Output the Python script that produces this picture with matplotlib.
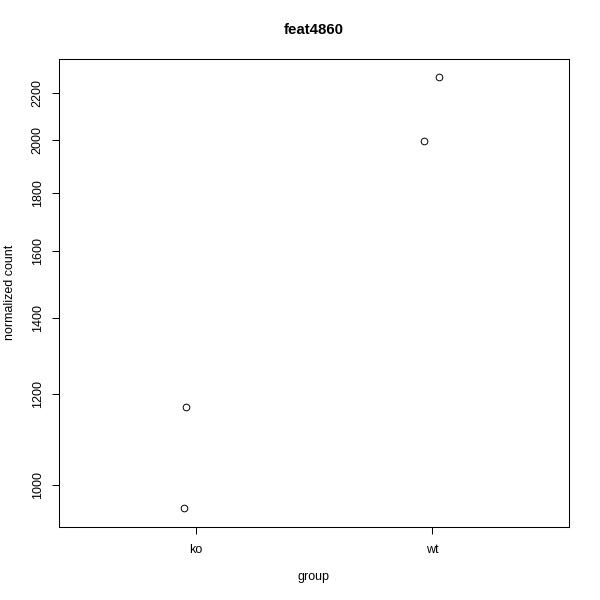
import matplotlib
matplotlib.use("Agg")
import matplotlib.pyplot as plt
from matplotlib.ticker import FixedLocator, FixedFormatter, NullLocator

# data (DESeq2-style plotCounts)
groups = ["ko", "wt"]
group_idx = [1, 1, 2, 2]
jitter = [-0.051, -0.042, -0.034, 0.030]
counts = [955, 1170, 1997, 2272]
y_ticks = [1000, 1200, 1400, 1600, 1800, 2000, 2200]

plt.rcParams["font.family"] = ["Liberation Sans", "DejaVu Sans"]

fig = plt.figure(figsize=(6, 6), dpi=100)
ax = fig.add_axes([59 / 600, 73 / 600, 510 / 600, 468 / 600])

xs = [g + j for g, j in zip(group_idx, jitter)]
ax.plot(xs, counts, linestyle="none", marker="o", markersize=4.8,
        markerfacecolor="none", markeredgecolor="black", markeredgewidth=0.7)

ax.set_yscale("log")
ax.set_xlim(0.42, 2.58)
ax.set_ylim(919, 2356)

ax.yaxis.set_major_locator(FixedLocator(y_ticks))
ax.yaxis.set_major_formatter(FixedFormatter([str(t) for t in y_ticks]))
ax.yaxis.set_minor_locator(NullLocator())
ax.set_xticks([1, 2])
ax.set_xticklabels(groups)

ax.tick_params(axis="both", direction="out", length=5, width=0.75, labelsize=9)
ax.tick_params(axis="x", pad=7.5)
ax.tick_params(axis="y", pad=6)
for lbl in ax.get_yticklabels():
    lbl.set_rotation(90)
    lbl.set_va("center")

for sp in ax.spines.values():
    sp.set_linewidth(0.75)

fig.text(314 / 600, 1 - 30 / 600, "feat4860", ha="center", va="center",
         fontsize=10.8, fontweight="bold")
fig.text(314 / 600, 1 - 577 / 600, "group", ha="center", va="center", fontsize=9)
fig.text(10 / 600, 1 - 292 / 600, "normalized count", ha="center", va="center",
         rotation=90, fontsize=9)

fig.savefig("out.png", dpi=100)
